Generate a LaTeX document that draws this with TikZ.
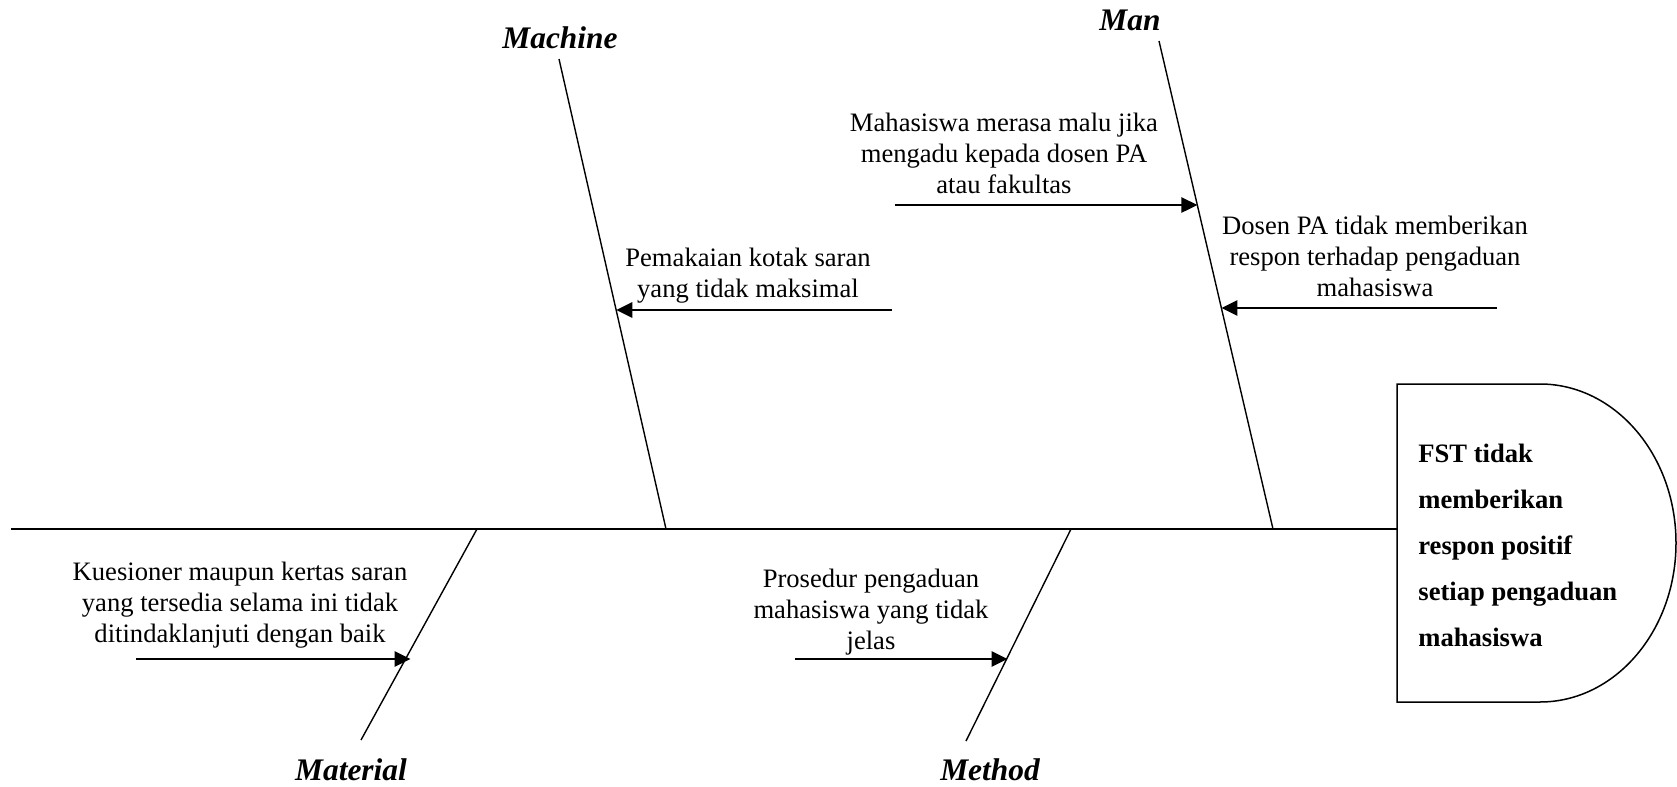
\documentclass[tikz,border=0pt]{standalone}
\usepackage{fontspec}
\setmainfont{Liberation Serif}
\usetikzlibrary{arrows.meta,calc}

\begin{document}
\begin{tikzpicture}[x=0.5pt,y=-0.5pt,
  bone/.style={line width=0.7pt},
  spineline/.style={line width=0.75pt},
  causearrow/.style={line width=1.4pt,-{Triangle[length=8pt,width=7.5pt]}},
  causetext/.style={align=center,inner sep=0pt,font=\fontsize{13.3}{15.5}\selectfont},
  category/.style={anchor=base,inner sep=0pt,font=\fontsize{15.7}{18}\selectfont\bfseries\itshape},
  effecttext/.style={align=left,inner sep=0pt,anchor=west,font=\fontsize{13.3}{23}\selectfont\bfseries}]

\useasboundingbox (0,0) rectangle (1677,787);

% head of the fish
\draw[line width=0.75pt] (1397,384) -- (1540,384)
  arc[start angle=-90,end angle=90,x radius=136,y radius=159]
  -- (1397,702) -- cycle;
\node[effecttext] (effect) at (1418,545) {FST tidak\\memberikan\\respon positif\\setiap pengaduan\\mahasiswa};

% spine
\coordinate (tail) at (11,529);
\coordinate (head) at (1397,529);
\draw[spineline] (tail) -- (head);

% category labels
\node[category] (machine) at (560,48) {Machine};
\node[category] (man) at (1130,31) {Man};
\node[category] (material) at (351,780) {Material};
\node[category] (method) at (990,780) {Method};

% bones
\coordinate (machTop) at (559,59);
\coordinate (machBot) at (666,529);
\coordinate (manTop) at (1159,41);
\coordinate (manBot) at (1273,529);
\coordinate (matTop) at (477,529);
\coordinate (matBot) at (361,740);
\coordinate (metTop) at (1071,529);
\coordinate (metBot) at (966,741);
\draw[bone] (machTop) -- (machBot);
\draw[bone] (manTop) -- (manBot);
\draw[bone] (matTop) -- (matBot);
\draw[bone] (metTop) -- (metBot);

% points where the causes meet the bones
\coordinate (tipMachA) at ($(machTop)!0.535!(machBot)$);
\coordinate (tipManA) at ($(manTop)!0.337!(manBot)$);
\coordinate (tipManB) at ($(manTop)!0.548!(manBot)$);
\coordinate (tipMatA) at ($(matTop)!0.616!(matBot)+(5,0)$);
\coordinate (tipMetA) at ($(metTop)!0.613!(metBot)+(1,0)$);

\coordinate (srcMachA) at (892,310);
\coordinate (srcManA) at (895,205);
\coordinate (srcManB) at (1497,308);
\coordinate (srcMatA) at (136,659);
\coordinate (srcMetA) at (795,659);

\draw[causearrow] (srcMachA) -- (srcMachA -| tipMachA);
\draw[causearrow] (srcManA) -- (srcManA -| tipManA);
\draw[causearrow] (srcManB) -- (srcManB -| tipManB);
\draw[causearrow] (srcMatA) -- (srcMatA -| tipMatA);
\draw[causearrow] (srcMetA) -- (srcMetA -| tipMetA);

% cause texts
\node[causetext] (causeMachA) at (748,276) {Pemakaian kotak saran\\yang tidak maksimal};
\node[causetext] (causeManA) at (1004,153) {Mahasiswa merasa malu jika\\mengadu kepada dosen PA\\atau fakultas};
\node[causetext] (causeManB) at (1375,256) {Dosen PA tidak memberikan\\respon terhadap pengaduan\\mahasiswa};
\node[causetext] (causeMatA) at (240,605) {Kuesioner maupun kertas saran\\yang tersedia selama ini tidak\\ditindaklanjuti dengan baik};
\node[causetext] (causeMetA) at (871,612) {Prosedur pengaduan\\mahasiswa yang tidak\\jelas};

\end{tikzpicture}
\end{document}
